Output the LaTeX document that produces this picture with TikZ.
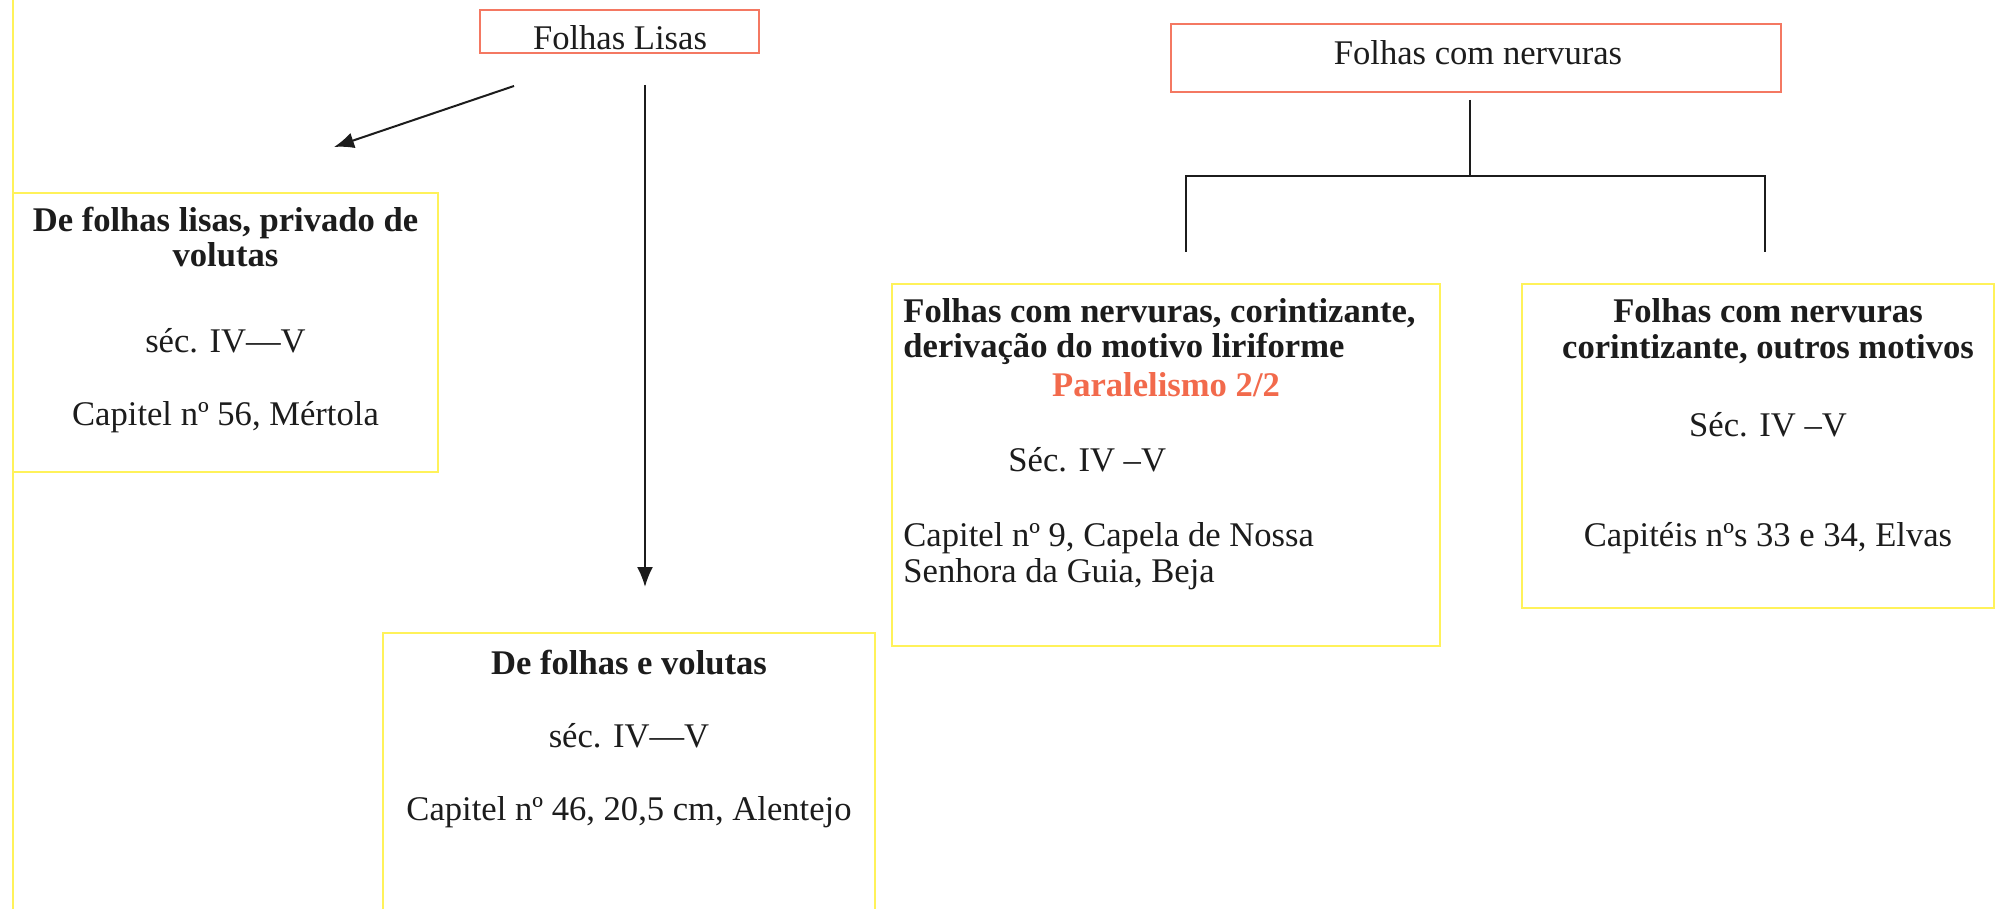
\documentclass[tikz,border=0pt]{standalone}
\usepackage{fontspec}
\setmainfont{Liberation Serif}
\usetikzlibrary{arrows.meta,fit}
\definecolor{boxyellow}{HTML}{FFF25A}
\definecolor{boxred}{HTML}{F47862}
\definecolor{parred}{HTML}{F26A4C}
\definecolor{ink}{HTML}{1C1C1C}
\begin{document}
\begin{tikzpicture}[x=0.5pt,y=-0.5pt,
  ybox/.style={draw=boxyellow, line width=1.3pt, inner sep=0pt},
  rbox/.style={draw=boxred, line width=1.2pt, inner sep=0pt},
  txt/.style={font=\fontsize{17.3}{17.75}\selectfont, text=ink, inner sep=0pt, anchor=base},
  btxt/.style={font=\fontsize{17.3}{17.75}\selectfont\bfseries, text=ink, inner sep=0pt, anchor=base},
  ltxt/.style={txt, anchor=base west},
  lbtxt/.style={btxt, anchor=base west},
  conn/.style={draw=ink, line width=1pt},
  arr/.style={conn, -{Latex[length=10pt,width=8pt]}}
]
\useasboundingbox (0,0) rectangle (1996,909);
\fill[white] (0,0) rectangle (1996,909);

% left border line
\coordinate (edgeT) at (13,0);
\coordinate (edgeB) at (13,909);
\draw[boxyellow, line width=1.3pt] (edgeT) -- (edgeB);

% header boxes
\node[rbox, fit={(480,10) (759,53)}] (lisas) {};
\node[txt] (lisasT) at (620,50) {Folhas Lisas};
\node[rbox, fit={(1171,24) (1781,92)}] (nerv) {};
\node[txt] (nervT) at (1478,65) {Folhas com nervuras};

% box 1
\node[ybox, fit={(13,193) (438,472)}] (b1) {};
\node[btxt] (b1a) at (225.5,232) {De folhas lisas, privado de};
\node[btxt] (b1b) at (225.5,267) {volutas};
\node[txt] (b1c) at (225.5,352) {séc. IV—V};
\node[txt] (b1d) at (225.5,425) {Capitel nº 56, Mértola};

% box 2 (bottom)
\node[ybox, fit={(383,633) (875,930)}] (b2) {};
\node[btxt] (b2a) at (629,674) {De folhas e volutas};
\node[txt] (b2b) at (629,747) {séc. IV—V};
\node[txt] (b2c) at (629,820) {Capitel nº 46, 20,5 cm, Alentejo};

% box 3
\node[ybox, fit={(892,284) (1440,646)}] (b3) {};
\node[lbtxt] (b3a) at (903,322) {Folhas com nervuras, corintizante,};
\node[lbtxt] (b3b) at (903,357) {derivação do motivo liriforme};
\node[btxt, text=parred] (b3c) at (1166,396) {Paralelismo 2/2};
\node[ltxt] (b3d) at (1008,471) {Séc. IV –V};
\node[ltxt] (b3e) at (903,546) {Capitel nº 9, Capela de Nossa};
\node[ltxt] (b3f) at (903,582) {Senhora da Guia, Beja};

% box 4
\node[ybox, fit={(1522,284) (1994,608)}] (b4) {};
\node[btxt] (b4a) at (1768,322) {Folhas com nervuras};
\node[btxt] (b4b) at (1768,358) {corintizante, outros motivos};
\node[txt] (b4c) at (1768,436) {Séc. IV –V};
\node[txt] (b4d) at (1768,546) {Capitéis nºs 33 e 34, Elvas};

% arrows from Folhas Lisas
\coordinate (a1s) at (514,86);
\coordinate (a1e) at (334,147);
\draw[arr] (a1s) -- (a1e);
\coordinate (a2s) at (645,85);
\coordinate (a2e) at (645,587);
\draw[arr] (a2s) -- (a2e);

% tree connector from Folhas com nervuras
\coordinate (nTop) at (1470,100);
\coordinate (nMid) at (1470,176);
\coordinate (nL) at (1186,252);
\coordinate (nR) at (1765,252);
\draw[conn] (nTop) -- (nMid);
\draw[conn] (nL) |- (nMid) -| (nR);
\end{tikzpicture}
\end{document}
